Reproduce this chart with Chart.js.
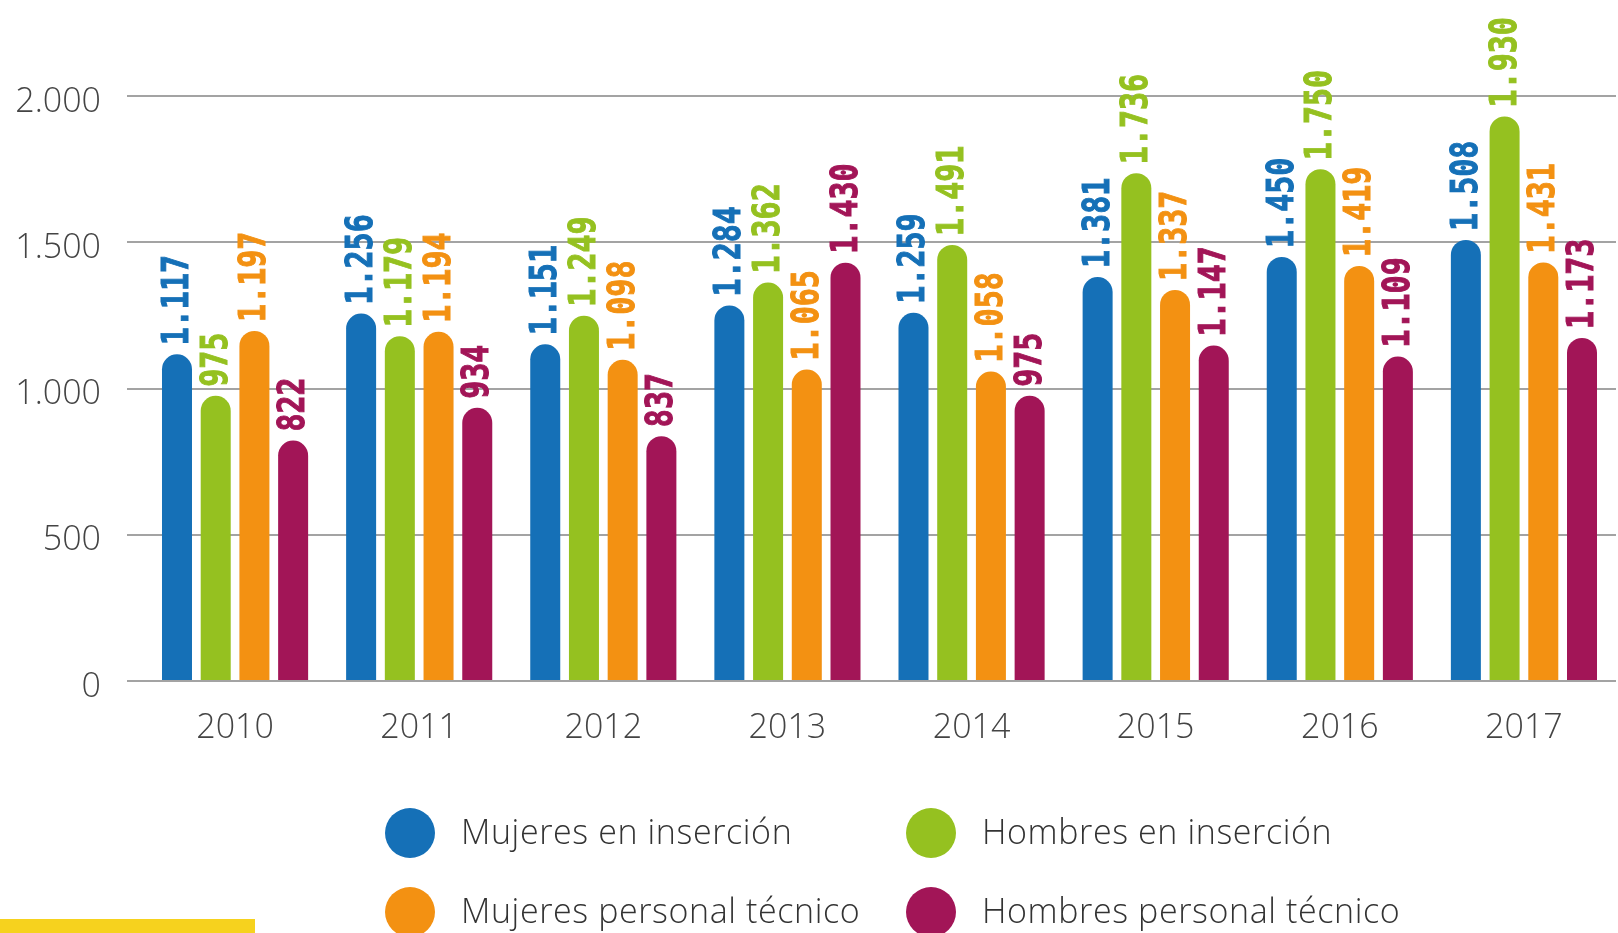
<!DOCTYPE html>
<html>
<head>
<meta charset="utf-8">
<script src="https://cdn.jsdelivr.net/npm/chart.js@4"></script>
<style>
  body { margin: 0; background: #fff; }
  #wrap { position: relative; width: 1618px; height: 933px; overflow: hidden; }
  #legend .item { position: absolute; font-family: "Open Sans", sans-serif; font-weight: 300; font-size: 34px; letter-spacing: 0.6px; color: #333; white-space: nowrap; }
  #legend .dot { position: absolute; width: 50px; height: 50px; border-radius: 50%; }
  #stripe { position: absolute; left: 0; top: 919px; width: 255px; height: 14px; background: #f6d21e; }
</style>
</head>
<body>
<div id="wrap">
  <canvas id="chart" width="1618" height="933"></canvas>
  <div id="legend"></div>
  <div id="stripe"></div>
</div>
<script>
const years = ['2010', '2011', '2012', '2013', '2014', '2015', '2016', '2017'];
const mujeresInsercion = [1117, 1256, 1151, 1284, 1259, 1381, 1450, 1508];
const hombresInsercion = [975, 1179, 1249, 1362, 1491, 1736, 1750, 1930];
const mujeresTecnico = [1197, 1194, 1098, 1065, 1058, 1337, 1419, 1431];
const hombresTecnico = [822, 934, 837, 1430, 975, 1147, 1109, 1173];

const seriesLabels = ['Mujeres en inserción', 'Hombres en inserción', 'Mujeres personal técnico', 'Hombres personal técnico'];
const seriesColors = ['#1570b7', '#95c120', '#f39112', '#a21557'];
const yTicks = [0, 500, 1000, 1500, 2000];

function fmt(v) {
    return String(v).replace(/\B(?=(\d{3})+(?!\d))/g, '.');
}

// labels rotated above each bar
const barLabels = {
    id: 'barLabels',
    afterDatasetsDraw(chart) {
        const ctx = chart.ctx;
        chart.data.datasets.forEach((ds, i) => {
            chart.getDatasetMeta(i).data.forEach((bar, j) => {
                ctx.save();
                ctx.translate(bar.x, bar.y - 9);
                ctx.rotate(-Math.PI / 2);
                ctx.scale(1, 1.25);
                ctx.font = 'bold 30px "DejaVu Sans Mono", monospace';
                ctx.fillStyle = ds.backgroundColor;
                ctx.strokeStyle = ds.backgroundColor;
                ctx.lineWidth = 0.8;
                ctx.textAlign = 'left';
                ctx.textBaseline = 'middle';
                ctx.fillText(fmt(ds.data[j]), 0, 1);
                ctx.strokeText(fmt(ds.data[j]), 0, 1);
                ctx.restore();
            });
        });
    }
};

const ctx = document.getElementById('chart').getContext('2d');
new Chart(ctx, {
    type: 'bar',
    data: {
        labels: years,
        datasets: [mujeresInsercion, hombresInsercion, mujeresTecnico, hombresTecnico].map((d, i) => ({
            label: seriesLabels[i],
            data: d,
            backgroundColor: seriesColors[i],
            borderWidth: 0,
            borderRadius: { topLeft: 15, topRight: 15, bottomLeft: 0, bottomRight: 0 },
            borderSkipped: false,
            categoryPercentage: 0.841,
            barPercentage: 0.775
        }))
    },
    options: {
        responsive: false,
        animation: false,
        layout: { padding: { top: 96, right: 2, bottom: 172, left: 0 } },
        plugins: { legend: { display: false }, tooltip: { enabled: false } },
        scales: {
            x: {
                grid: { display: false },
                border: { display: false },
                ticks: {
                    color: '#444',
                    padding: 19,
                    font: { family: '"Open Sans", sans-serif', weight: 300, size: 34 }
                },
                afterFit: s => { s.height = 80; }
            },
            y: {
                min: 0,
                max: 2000,
                afterBuildTicks: s => { s.ticks = yTicks.map(v => ({ value: v })); },
                grid: { color: '#a3a3a3', lineWidth: 2, tickLength: 16 },
                border: { display: false },
                ticks: {
                    color: '#444',
                    padding: 26,
                    labelOffset: 6,
                    font: { family: '"Open Sans", sans-serif', weight: 300, size: 34 },
                    callback: v => fmt(v)
                },
                afterFit: s => { s.width = 143; }
            }
        }
    },
    plugins: [barLabels]
});

// legend, two columns
const legend = document.getElementById('legend');
const cols = [410, 931];
const rows = [833, 912];
seriesLabels.forEach((name, i) => {
    const cx = cols[i % 2], cy = rows[Math.floor(i / 2)];
    const dot = document.createElement('div');
    dot.className = 'dot';
    dot.style.left = (cx - 25) + 'px';
    dot.style.top = (cy - 25) + 'px';
    dot.style.background = seriesColors[i];
    legend.appendChild(dot);
    const txt = document.createElement('div');
    txt.className = 'item';
    txt.textContent = name;
    txt.style.left = (cx + 51) + 'px';
    txt.style.top = (cy - 25) + 'px';
    legend.appendChild(txt);
});
</script>
</body>
</html>
